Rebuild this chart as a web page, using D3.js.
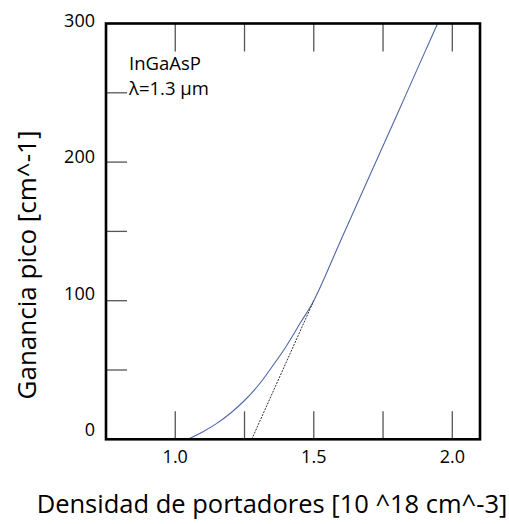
<!DOCTYPE html>
<html><head><meta charset="utf-8">
<script src="https://cdn.jsdelivr.net/npm/d3@7"></script>
<style>body{margin:0;background:#fff}svg{display:block}</style>
</head><body>
<svg id="c" width="509" height="524"></svg>
<script>
const carrierDensity = [1.045, 1.10, 1.15, 1.20, 1.25, 1.30, 1.35, 1.40, 1.45, 1.50, 1.60, 1.70, 1.80, 1.90, 1.947];
const peakGain      = [0,     5.5,  11.5, 19,   28,   39,   52.5, 67,   83.5, 100,  144.7, 189.4, 234, 279, 300];
const tangentX = [1.276, 1.50];
const tangentY = [0, 100];
const xTickValues = [1.0, 1.25, 1.5, 1.75, 2.0];
const xTickLabels = ["1.0", "", "1.5", "", "2.0"];
const yTickValues = [0, 50, 100, 150, 200, 250, 300];
const yTickLabels = ["0", "", "100", "", "200", "", "300"];

const svg = d3.select("#c");
const L = 106, R = 480, T = 23.5, B = 439.3;
const x = d3.scaleLinear().domain([0.75, 2.1]).range([L, R]);
const y = d3.scaleLinear().domain([0, 300]).range([B, T]);
const yLab = d3.scaleLinear().domain([0, 300]).range([436, 27]);
const font = "'Open Sans', sans-serif";

// ticks
const tickCol = "#555";
svg.append("g").selectAll("line").data(xTickValues).join("line")
  .attr("x1", d => x(d)).attr("x2", d => x(d)).attr("y1", B).attr("y2", B - 28)
  .attr("stroke", tickCol).attr("stroke-width", 1.3);
svg.append("g").selectAll("line").data(xTickValues).join("line")
  .attr("x1", d => x(d)).attr("x2", d => x(d)).attr("y1", T).attr("y2", T + 28)
  .attr("stroke", tickCol).attr("stroke-width", 1.3);
svg.append("g").selectAll("line").data(yTickValues.filter(v => v > 0 && v < 300)).join("line")
  .attr("x1", L).attr("x2", L + 21).attr("y1", d => y(d)).attr("y2", d => y(d))
  .attr("stroke", tickCol).attr("stroke-width", 1.3);

// tick labels
svg.append("g").selectAll("text").data(xTickValues.map((v,i)=>[v,xTickLabels[i]]).filter(d=>d[1])).join("text")
  .attr("x", d => x(d[0])).attr("y", 463).attr("text-anchor", "middle")
  .attr("font-family", font).attr("font-size", 18).text(d => d[1]);
svg.append("g").selectAll("text").data(yTickValues.map((v,i)=>[v,yTickLabels[i]]).filter(d=>d[1])).join("text")
  .attr("x", 95).attr("y", d => yLab(d[0])).attr("text-anchor", "end")
  .attr("font-family", font).attr("font-size", 18).text(d => d[1]);

// curve
const pts = carrierDensity.map((v,i)=>[v, peakGain[i]]);
svg.append("path").datum(pts)
  .attr("d", d3.line().x(d=>x(d[0])).y(d=>y(d[1])).curve(d3.curveCatmullRom.alpha(0.5)))
  .attr("fill", "none").attr("stroke", "#5068a8").attr("stroke-width", 1.1);

// tangent dashed
svg.append("path").datum(tangentX.map((v,i)=>[v, tangentY[i]]))
  .attr("d", d3.line().x(d=>x(d[0])).y(d=>y(d[1])))
  .attr("fill", "none").attr("stroke", "#333").attr("stroke-width", 1)
  .attr("stroke-dasharray", "2,1.2");

// frame
svg.append("rect").attr("x", L).attr("y", T).attr("width", R - L).attr("height", B - T)
  .attr("fill", "none").attr("stroke", "#000").attr("stroke-width", 2.6);

// annotation
svg.append("text").attr("x", 129).attr("y", 70).attr("font-family", font).attr("font-size", 18.5).text("InGaAsP");
svg.append("text").attr("x", 129).attr("y", 95).attr("font-family", font).attr("font-size", 18.5).text("λ=1.3 μm");

// axis titles
svg.append("text").attr("x", 272).attr("y", 513).attr("text-anchor", "middle")
  .attr("font-family", font).attr("font-size", 25.5).text("Densidad de portadores [10 ^18 cm^-3]");
svg.append("text").attr("transform", "translate(36,265) rotate(-90)").attr("text-anchor", "middle")
  .attr("font-family", font).attr("font-size", 26).text("Ganancia pico [cm^-1]");
</script>
</body></html>
